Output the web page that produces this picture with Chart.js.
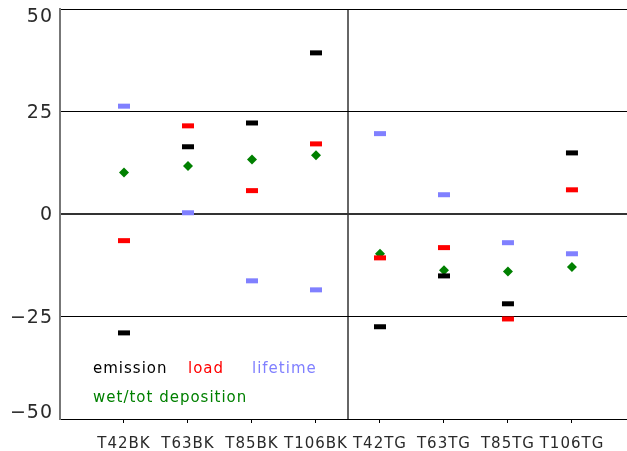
<!DOCTYPE html>
<html>
<head>
<meta charset="utf-8">
<style>
    body {
        margin: 0;
        background: #fff;
    }
    #chart {
        display: block;
    }
</style>
</head>
<body>
<canvas id="chart" width="627" height="451"></canvas>
<script src="https://cdn.jsdelivr.net/npm/chart.js"></script>
<script>
    // values (percent change)
    const categories = ['T42BK', 'T63BK', 'T85BK', 'T106BK', 'T42TG', 'T63TG', 'T85TG', 'T106TG'];
    const emission = [-29.0, 16.4, 22.2, 39.3, -27.5, -15.1, -21.9, 14.9];
    const load = [-6.5, 21.5, 5.7, 17.1, -10.7, -8.2, -25.6, 5.9];
    const lifetime = [26.3, 0.3, -16.3, -18.5, 19.6, 4.7, -7.0, -9.7];
    const deposition = [10.1, 11.7, 13.3, 14.3, -9.7, -13.7, -14.0, -12.9];
    const yTicks = [-50, -25, 0, 25, 50];
    const groupSplit = 4; // first 4 are BK runs, the rest TG

    const FONT = 'DejaVu Sans';
    const TEXT = '#2a2a2a';

    function points(values) {
        return values.map((v, i) => ({ x: i + 1, y: v }));
    }

    function dash(label, values, color) {
        return {
            label: label,
            data: points(values),
            pointStyle: 'line',
            pointRadius: 6,
            borderWidth: 5,
            borderColor: color,
            backgroundColor: color
        };
    }

    const divider = groupSplit + 0.5;
    const xTicks = categories.map((c, i) => i + 1);
    xTicks.splice(groupSplit, 0, divider);

    // y labels are clamped inside the plot like the original, and the legend sits in the plot
    const overlay = {
        id: 'overlay',
        beforeLayout(chart) {
            chart.ctx.letterSpacing = '1px';
        },
        afterDraw(chart) {
            const ctx = chart.ctx;
            const area = chart.chartArea;
            const ys = chart.scales.y;
            ctx.save();
            ctx.letterSpacing = '1px';
            ctx.fillStyle = TEXT;
            ctx.font = '19px "' + FONT + '"';
            ctx.textAlign = 'right';
            ctx.textBaseline = 'middle';
            ys.ticks.forEach(t => {
                let py = ys.getPixelForValue(t.value) + 1.5;
                py = Math.max(area.top + 8, Math.min(area.bottom - 6, py));
                ctx.fillText(String(t.value).replace('-', '\u2212'), area.left - 7, py);
            });

            ctx.font = '15px "' + FONT + '"';
            ctx.textAlign = 'left';
            ctx.textBaseline = 'alphabetic';
            const spots = [[33, 373], [128, 373], [192, 373], [33, 402]];
            chart.data.datasets.forEach((ds, i) => {
                ctx.fillStyle = ds.borderColor;
                ctx.fillText(ds.label, area.left + spots[i][0], spots[i][1]);
            });
            ctx.restore();
        }
    };

    new Chart(document.getElementById('chart'), {
        type: 'scatter',
        data: {
            datasets: [
                dash('emission', emission, '#000000'),
                dash('load', load, '#ff0000'),
                dash('lifetime', lifetime, '#8080ff'),
                {
                    label: 'wet/tot deposition',
                    data: points(deposition),
                    pointStyle: 'rectRot',
                    pointRadius: 5,
                    borderWidth: 0,
                    borderColor: '#008000',
                    backgroundColor: '#008000'
                }
            ]
        },
        options: {
            responsive: false,
            animation: false,
            events: [],
            devicePixelRatio: 1,
            layout: { autoPadding: false, padding: { top: 9, right: 0, left: 0, bottom: 0 } },
            plugins: {
                legend: { display: false },
                tooltip: { enabled: false }
            },
            scales: {
                x: {
                    type: 'linear',
                    min: 0,
                    max: 8.86,
                    afterBuildTicks: s => { s.ticks = xTicks.map(v => ({ value: v })); },
                    afterFit: s => { s.height = 32; },
                    border: { color: '#000', width: 1 },
                    grid: {
                        color: c => c.tick && c.tick.value === divider ? '#666' : 'rgba(0,0,0,0)',
                        lineWidth: c => c.tick && c.tick.value === divider ? 2 : 1,
                        tickColor: c => c.tick && c.tick.value === divider ? 'rgba(0,0,0,0)' : '#000',
                        tickWidth: 1,
                        tickLength: 4
                    },
                    ticks: {
                        autoSkip: false,
                        maxRotation: 0,
                        padding: 12,
                        color: TEXT,
                        font: { family: FONT, size: 15 },
                        callback: v => Number.isInteger(v) ? categories[v - 1] : ''
                    }
                },
                y: {
                    min: -50,
                    max: 50,
                    afterBuildTicks: s => { s.ticks = yTicks.map(v => ({ value: v })); },
                    afterFit: s => { s.width = 60; },
                    border: { color: '#777', width: 2 },
                    grid: {
                        drawTicks: false,
                        color: c => c.tick.value === 0 ? '#333' : (c.tick.value === -50 ? 'rgba(0,0,0,0)' : '#000'),
                        lineWidth: c => c.tick.value === 0 ? 2 : 1
                    },
                    ticks: { display: false }
                }
            }
        },
        plugins: [overlay]
    });
</script>
</body>
</html>
